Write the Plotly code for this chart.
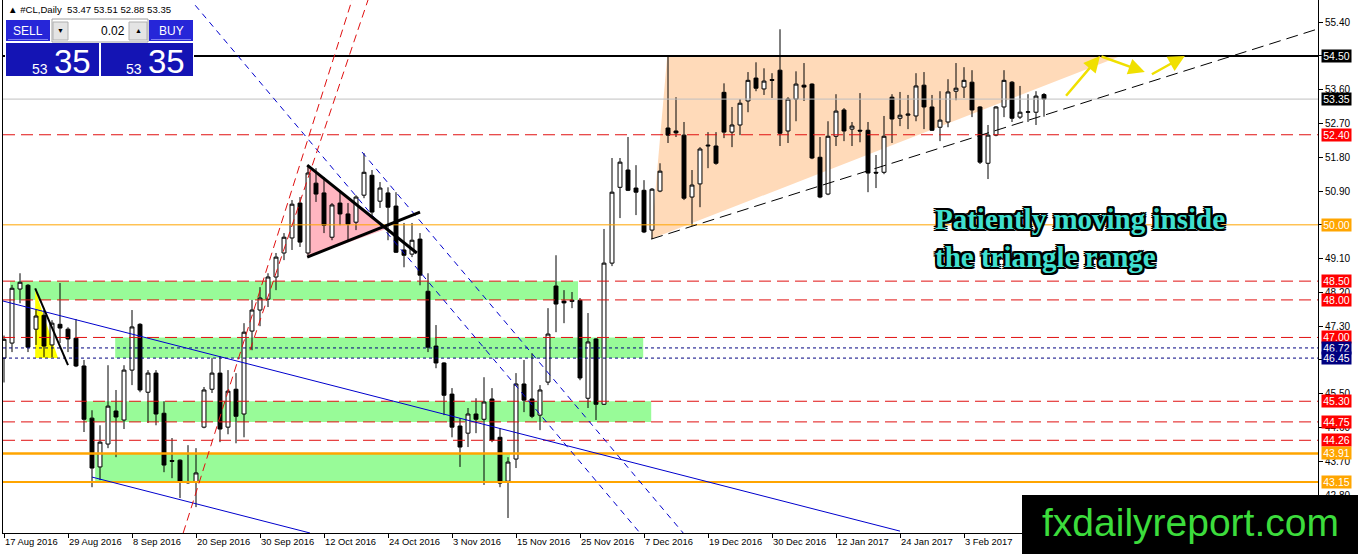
import plotly.graph_objects as go

# ---------------- data ----------------
x_tick_bars = [0, 8, 16, 24, 32, 40, 48, 56, 64, 72, 80, 88, 96, 104, 112, 120]
x_tick_labels = ["17 Aug 2016", "29 Aug 2016", "8 Sep 2016", "20 Sep 2016", "30 Sep 2016",
                 "12 Oct 2016", "24 Oct 2016", "3 Nov 2016", "15 Nov 2016", "25 Nov 2016",
                 "7 Dec 2016", "19 Dec 2016", "30 Dec 2016", "12 Jan 2017", "24 Jan 2017",
                 "3 Feb 2017"]
y_tick_values = [42.80, 43.70, 44.60, 45.50, 46.40, 47.30, 48.20, 49.10, 50.00,
                 50.90, 51.80, 52.70, 53.60, 54.50, 55.40]

opens = [46.45, 46.85, 48.29, 48.39, 47.22, 47.59, 46.80, 47.35, 47.22, 46.98,
         46.24, 44.85, 43.55, 44.16, 45.04, 44.80, 46.13, 47.35, 45.54, 46.05,
         44.98, 43.72, 43.73, 43.16, 43.15, 44.61, 45.62, 46.05, 44.61, 45.62,
         44.96, 47.17, 47.73, 48.02, 48.61, 49.25, 49.65, 50.58, 49.25, 51.11,
         50.85, 49.67, 50.58, 50.29, 50.07, 50.79, 51.32, 50.63, 50.85, 50.50,
         49.33, 49.22, 49.62, 48.23, 46.77, 46.32, 45.49, 44.64, 44.45, 44.96,
         44.82, 45.36, 44.34, 43.17, 43.76, 45.76, 45.36, 44.93, 45.81, 48.37,
         47.97, 47.96, 47.99, 45.38, 46.96, 45.22, 48.98, 51.00, 51.46, 50.98,
         50.92, 49.86, 50.90, 52.58, 52.50, 52.39, 50.74, 51.09, 52.10, 52.10,
         53.53, 52.47, 52.66, 53.30, 53.91, 53.62, 53.87, 54.12, 52.50, 53.35,
         53.72, 53.75, 51.80, 50.82, 52.36, 53.06, 52.55, 52.52, 52.52, 51.40,
         51.40, 53.40, 52.84, 52.92, 52.90, 53.72, 53.14, 52.60, 52.74, 53.56,
         53.67, 53.80, 53.14, 51.64, 52.39, 53.14, 53.80, 52.87, 53.00, 53.00,
         53.47]
highs = [47.05, 48.40, 48.71, 48.42, 47.73, 47.73, 47.46, 48.45, 47.27, 47.49,
         46.40, 45.06, 44.66, 46.26, 45.60, 46.26, 47.73, 47.38, 46.13, 46.13,
         45.30, 44.32, 43.75, 44.13, 44.05, 45.68, 46.45, 46.50, 46.13, 46.05,
         47.38, 48.00, 48.34, 48.71, 49.25, 49.78, 50.66, 50.74, 51.59, 51.51,
         51.27, 50.58, 50.92, 50.58, 50.79, 51.91, 51.46, 51.14, 51.00, 50.87,
         50.05, 50.05, 49.78, 48.71, 47.33, 46.34, 45.65, 44.85, 45.12, 45.38,
         45.94, 45.65, 44.58, 43.81, 46.05, 46.40, 46.58, 45.73, 47.78, 49.19,
         48.26, 48.21, 48.05, 47.65, 46.98, 49.89, 51.78, 51.78, 52.34, 51.59,
         51.19, 50.98, 51.64, 54.50, 53.40, 52.74, 51.46, 52.07, 52.47, 52.47,
         53.77, 53.14, 53.35, 54.07, 54.33, 54.17, 54.04, 55.21, 53.40, 54.09,
         54.31, 53.77, 52.34, 52.76, 53.48, 53.11, 52.74, 53.51, 52.74, 51.86,
         52.90, 53.48, 53.54, 53.46, 54.04, 54.07, 53.46, 53.56, 53.88, 54.31,
         54.20, 54.12, 53.16, 52.66, 53.16, 54.12, 53.83, 53.70, 53.48, 53.56,
         53.51]
lows = [45.80, 46.61, 47.91, 46.61, 46.80, 46.48, 46.48, 46.85, 46.61, 46.21,
        44.48, 43.01, 43.20, 44.05, 43.81, 44.56, 45.73, 45.54, 44.72, 44.66,
        43.41, 43.25, 42.72, 43.10, 42.48, 44.58, 45.52, 44.21, 44.42, 44.18,
        44.34, 46.66, 47.30, 47.81, 48.26, 49.06, 49.33, 49.41, 49.19, 50.61,
        49.78, 49.59, 49.99, 49.59, 49.86, 50.71, 50.21, 50.45, 49.59, 49.25,
        48.87, 49.14, 48.39, 46.61, 46.18, 44.93, 44.34, 43.55, 44.08, 44.45,
        43.07, 44.21, 43.01, 42.19, 43.52, 45.01, 44.85, 44.53, 45.73, 47.14,
        47.38, 47.78, 45.86, 45.12, 44.80, 45.20, 48.90, 50.18, 50.90, 50.26,
        49.78, 49.62, 50.87, 52.18, 52.34, 50.66, 49.97, 50.47, 51.51, 51.60,
        52.31, 52.07, 52.39, 53.00, 53.56, 53.46, 53.38, 52.10, 52.18, 52.76,
        53.30, 51.75, 50.71, 50.79, 52.10, 52.23, 52.10, 52.20, 50.87, 50.98,
        51.35, 52.18, 52.63, 52.55, 52.76, 52.55, 52.50, 52.23, 52.60, 53.32,
        53.38, 52.87, 51.62, 51.22, 52.36, 52.87, 52.74, 52.82, 52.74, 52.66,
        52.88]
closes = [46.95, 48.31, 48.47, 46.74, 47.57, 46.77, 47.38, 47.25, 46.96, 46.24,
          44.82, 43.52, 44.21, 45.17, 44.88, 46.13, 47.28, 45.60, 46.05, 44.96,
          43.60, 43.70, 43.17, 43.13, 43.39, 45.60, 46.05, 44.56, 45.57, 44.90,
          47.14, 47.73, 48.05, 48.61, 49.14, 49.67, 50.55, 49.54, 51.38, 50.82,
          49.99, 50.53, 50.29, 50.02, 50.74, 51.40, 50.34, 50.98, 50.47, 49.27,
          49.19, 49.59, 48.66, 46.74, 46.32, 45.46, 44.61, 44.08, 44.96, 44.82,
          45.28, 44.26, 43.12, 43.68, 45.76, 45.33, 44.90, 45.60, 47.09, 47.89,
          47.92, 47.99, 45.92, 46.88, 45.22, 48.98, 50.87, 51.67, 50.92, 50.87,
          49.81, 50.95, 51.43, 52.39, 52.45, 50.71, 51.06, 52.02, 52.12, 51.64,
          52.47, 52.66, 53.24, 53.85, 53.64, 53.83, 53.85, 52.44, 53.35, 53.75,
          53.67, 51.78, 50.74, 52.36, 53.03, 52.50, 52.63, 52.50, 51.38, 51.38,
          52.36, 52.82, 52.92, 52.95, 53.70, 53.14, 52.52, 52.79, 53.54, 53.64,
          53.85, 53.06, 51.67, 52.39, 53.14, 53.85, 52.84, 53.00, 53.01, 53.43,
          53.35]

# horizontal price levels (value) and their style kind
levels = [54.50, 53.35, 52.40, 50.00, 48.50, 48.00, 47.00, 46.72, 46.45,
          45.30, 44.75, 44.26, 43.91, 43.15]
level_kinds = ["black", "bid", "red", "orange", "red", "red", "red", "blue", "blue",
               "red", "red", "red", "orange_thick", "orange_mid"]

# support / resistance zones: (bar start, bar end, low price, high price)
zone_bar_start = [0.75, 13.9, 10.1, 11.4]
zone_bar_end = [71.75, 79.9, 80.9, 63.25]
zone_low = [48.00, 46.45, 44.75, 43.15]
zone_high = [48.50, 47.00, 45.30, 43.91]

# triangle patterns (bar index, price)
peach_bars = [80.9, 82.9, 139.5]
peach_prices = [49.62, 54.49, 54.49]
pink_bars = [37.9, 37.9, 48.0]
pink_prices = [51.59, 49.14, 49.91]
yellow_bars = [3.9, 3.9, 6.75]
yellow_prices = [48.26, 46.45, 46.45]

# trend lines: (bar0, price0, bar1, price1)
pennant_lines = [(37.9, 51.59, 51.6, 49.25), (37.9, 49.14, 52.0, 50.34)]
flag_line = [(3.9, 48.31, 8.0, 46.26)]
red_channel = [(22.4, 41.79, 43.5, 55.99), (30.75, 46.66, 45.5, 55.99)]
blue_solid = [(-0.125, 47.97, 112.0, 41.84), (11.0, 43.28, 38.25, 41.79)]
blue_dashed = [(23.9, 55.85, 79.5, 41.79), (44.75, 51.94, 84.9, 41.79)]
support_line = [(80.9, 49.62, 164.25, 55.22)]
# projected zig-zag arrows (tail bar, tail price, head bar, head price)
arrows = [(132.6, 53.40, 137.0, 54.50), (137.0, 54.50, 142.6, 54.07), (143.3, 53.99, 147.6, 54.50)]

header_text = "▲ #CL,Daily  53.47 53.51 52.88 53.35"
note_text = "Patiently moving inside<br>the triangle range"
logo_text = "fxdailyreport.com"

# ---------------- styles ----------------
FONT = "Liberation Sans"
W, H = 1358, 554
ML, MR, MT, MB = 3, 40, 0, 21
PW, PH = W - ML - MR, H - MT - MB
X_RANGE = [-0.125, 164.25]
Y_RANGE = [41.79, 55.99]

RED = "#e01010"
ORANGE = "#ffa500"
NAVY = "#000080"
kind_style = {
    "black": dict(color="black", dash="solid", width=2, bg="black"),
    "bid": dict(color="#c0c0c0", dash="solid", width=1, bg="black"),
    "red": dict(color=RED, dash="12px,6px", width=1, bg="#ff0000"),
    "orange": dict(color=ORANGE, dash="solid", width=1, bg=ORANGE),
    "orange_thick": dict(color=ORANGE, dash="solid", width=2.5, bg=ORANGE),
    "orange_mid": dict(color=ORANGE, dash="solid", width=2, bg=ORANGE),
    "blue": dict(color=NAVY, dash="3px,3px", width=1, bg=NAVY),
}


def PX(px):
    return (px - ML) / PW


def PY(py):
    return (H - MB - py) / PH


fig = go.Figure()

fig.add_trace(go.Candlestick(
    x=list(range(len(opens))), open=opens, high=highs, low=lows, close=closes,
    increasing=dict(line=dict(color="black", width=1), fillcolor="white"),
    decreasing=dict(line=dict(color="black", width=1), fillcolor="black"),
    whiskerwidth=0, hoverinfo="skip", showlegend=False,
))

shapes = []
# background fills
for b0, b1, lo, hi in zip(zone_bar_start, zone_bar_end, zone_low, zone_high):
    shapes.append(dict(type="rect", xref="x", yref="y", x0=b0, x1=b1, y0=lo, y1=hi,
                       fillcolor="#98fb98", line=dict(width=0), layer="below"))


def tri_path(bx, py):
    return "M {},{} L {},{} L {},{} Z".format(bx[0], py[0], bx[1], py[1], bx[2], py[2])


shapes.append(dict(type="path", xref="x", yref="y", path=tri_path(peach_bars, peach_prices),
                   fillcolor="#ffdab9", line=dict(width=0), layer="below"))
shapes.append(dict(type="path", xref="x", yref="y", path=tri_path(pink_bars, pink_prices),
                   fillcolor="#ffb6c1", line=dict(width=0), layer="below"))
shapes.append(dict(type="path", xref="x", yref="y", path=tri_path(yellow_bars, yellow_prices),
                   fillcolor="#ffff00", line=dict(width=0), layer="below"))

# horizontal levels
for v, k in zip(levels, level_kinds):
    st = kind_style[k]
    shapes.append(dict(type="line", xref="paper", yref="y", x0=0, x1=1, y0=v, y1=v,
                       line=dict(color=st["color"], width=st["width"], dash=st["dash"]),
                       layer="above"))


def add_lines(lst, color, width, dash):
    for b0, p0, b1, p1 in lst:
        shapes.append(dict(type="line", xref="x", yref="y", x0=b0, y0=p0, x1=b1, y1=p1,
                           line=dict(color=color, width=width, dash=dash), layer="above"))


add_lines(blue_solid, "#0000cd", 1, "solid")
add_lines(blue_dashed, "#0000cd", 1, "6px,5px")
add_lines(red_channel, RED, 1, "8px,5px")
add_lines(support_line, "black", 1, "12px,6px")
add_lines(pennant_lines, "black", 3, "solid")
add_lines(flag_line, "black", 2, "solid")

# ---- top-left trade panel (pixel layout) ----
def prect(x0, y0, x1, y1, fill, line_color=None, lw=0):
    shapes.append(dict(type="rect", xref="paper", yref="paper", x0=PX(x0), x1=PX(x1),
                       y0=PY(y1), y1=PY(y0), fillcolor=fill,
                       line=dict(color=line_color or fill, width=lw), layer="above"))


prect(5, 19, 194, 77, "#ffffff")
prect(6, 20, 50, 41, "#2626d8")
prect(52, 19, 148, 42, "#ffffff", "#a0a0a0", 1)
prect(53, 22, 68, 40, "#e4e4e4", "#b0b0b0", 1)
prect(129, 22, 147, 40, "#e4e4e4", "#b0b0b0", 1)
prect(149, 20, 193, 41, "#2626d8")
prect(6, 43, 99, 76, "#1414b4")
prect(101, 43, 193, 76, "#1414b4")
prect(8, 39, 48, 40, "#8080f0")
prect(151, 39, 191, 40, "#8080f0")

# logo box
prect(1022, 495, 1358, 554, "#000000")

annotations = []


def ptext(x, y, text, size, color, xanchor="center", family=FONT, yanchor="middle"):
    annotations.append(dict(xref="paper", yref="paper", x=PX(x), y=PY(y), text=text,
                            showarrow=False, xanchor=xanchor, yanchor=yanchor,
                            font=dict(family=family, size=size, color=color)))


ptext(6, 10, header_text, 9.6, "black", xanchor="left")
ptext(28, 31, "SELL", 12, "white")
ptext(171, 31, "BUY", 12, "white")
ptext(127, 31, "0.02", 12, "black", xanchor="right")
ptext(60.5, 31, "▼", 7, "black")
ptext(138, 31, "▲", 7, "black")
ptext(50, 69, "53", 14, "white", xanchor="right")
ptext(52, 61, "35", 33, "white", xanchor="left")
ptext(144, 69, "53", 14, "white", xanchor="right")
ptext(146, 61, "35", 33, "white", xanchor="left")
ptext(1190, 522, logo_text, 39, "#3cdc3c")

# price labels on the axis
for v, k in zip(levels, level_kinds):
    annotations.append(dict(xref="paper", yref="y", x=1, y=v, xanchor="left", xshift=3,
                            text="{:.2f}".format(v), showarrow=False,
                            bgcolor=kind_style[k]["bg"], borderpad=0, width=29, height=12,
                            font=dict(family=FONT, size=10.5, color="white")))

# arrows
for b0, p0, b1, p1 in arrows:
    annotations.append(dict(xref="x", yref="y", axref="x", ayref="y", x=b1, y=p1, ax=b0, ay=p0,
                            showarrow=True, arrowhead=2, arrowsize=1.3, arrowwidth=2.5,
                            arrowcolor="#f0e000", text=""))

# note text
annotations.append(dict(xref="paper", yref="paper", x=PX(933), y=PY(201), xanchor="left",
                        yanchor="top", align="left", text="<b>" + note_text + "</b>",
                        showarrow=False,
                        font=dict(family="Liberation Serif", size=29, color="#40e0d0",
                                  shadow="2px 2px 0 #000, -2px -2px 0 #000, 2px -2px 0 #000, "
                                         "-2px 2px 0 #000, 2px 0 0 #000, -2px 0 0 #000, "
                                         "0 2px 0 #000, 0 -2px 0 #000")))

fig.update_layout(
    width=W, height=H, margin=dict(l=ML, r=MR, t=MT, b=MB),
    paper_bgcolor="white", plot_bgcolor="white",
    shapes=shapes, annotations=annotations, showlegend=False,
    xaxis=dict(range=X_RANGE, rangeslider=dict(visible=False), showgrid=False,
               zeroline=False, tickmode="array", tickvals=x_tick_bars, ticktext=x_tick_labels,
               ticks="outside", ticklen=4, tickcolor="black", showline=True,
               linecolor="black", linewidth=1, mirror=True, ticklabelposition="outside right",
               tickfont=dict(family=FONT, size=9.4, color="black")),
    yaxis=dict(range=Y_RANGE, side="right", showgrid=False, zeroline=False,
               tickmode="array", tickvals=y_tick_values,
               ticktext=["{:.2f}".format(v) for v in y_tick_values],
               ticks="outside", ticklen=4, tickcolor="black", showline=True,
               linecolor="black", linewidth=1, mirror=True,
               tickfont=dict(family=FONT, size=10, color="black")),
)

fig.write_html("out.html", config={"displayModeBar": False},
               post_script="document.body.style.margin='0';document.body.style.overflow='hidden';")
